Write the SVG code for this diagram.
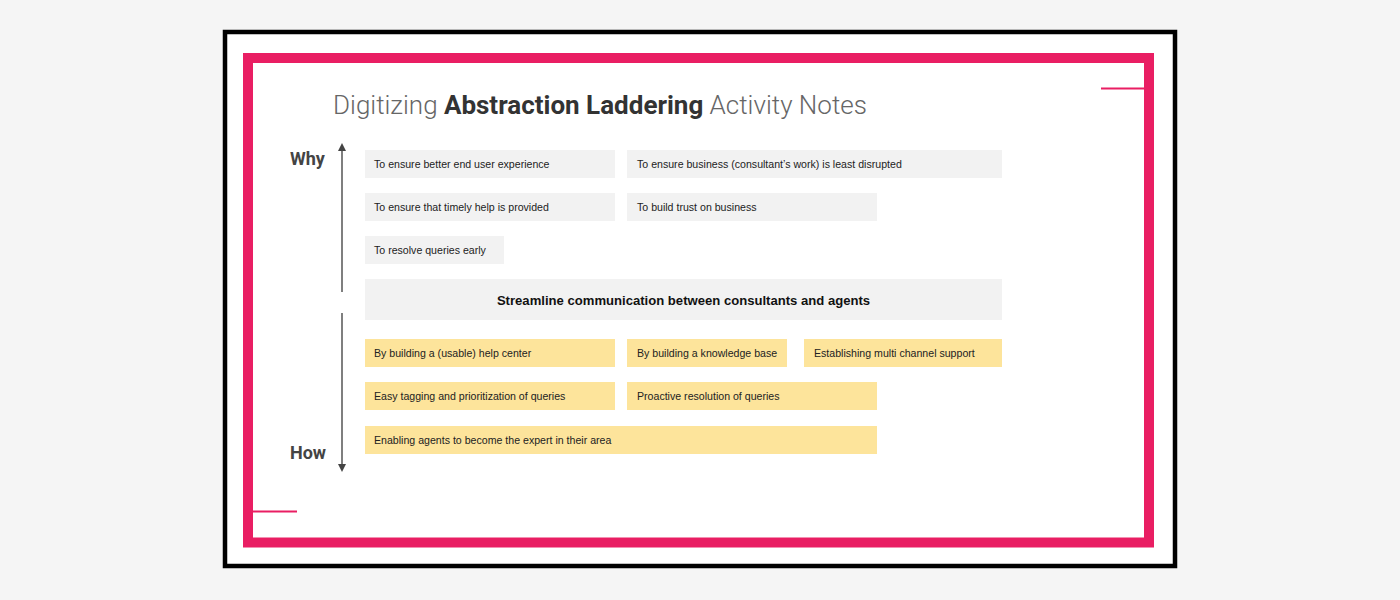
<svg xmlns="http://www.w3.org/2000/svg" width="1400" height="600" viewBox="0 0 1400 600">
<style>
.note{font-family:"Liberation Sans",Arial,sans-serif;font-size:10.6px;fill:#222}
.g{fill:#f2f2f2}
.y{fill:#fde49b}
.lbl{font-family:Roboto,"Liberation Sans",sans-serif;font-weight:bold;font-size:18px;fill:#444}
.ax{stroke:#555;stroke-width:1.5;fill:none}
</style>
<defs>
<marker id="ah" viewBox="0 0 10 10" refX="5" refY="5" markerWidth="9" markerHeight="8" orient="auto-start-reverse" markerUnits="userSpaceOnUse">
<path d="M0,0 L10,5 L0,10 z" fill="#444"/>
</marker>
</defs>
<rect width="1400" height="600" fill="#f5f5f5"/>
<rect x="225" y="32" width="950" height="534" fill="#fff" stroke="#000" stroke-width="4.5"/>
<rect x="248" y="58" width="901" height="484.5" fill="none" stroke="#e91e63" stroke-width="10"/>
<line x1="1101" y1="88.5" x2="1144" y2="88.5" stroke="#e91e63" stroke-width="2"/>
<line x1="253" y1="511.5" x2="297" y2="511.5" stroke="#e91e63" stroke-width="2"/>
<text x="333" y="114" font-family="Roboto,'Liberation Sans',sans-serif" font-size="26" font-weight="300" fill="#666">Digitizing <tspan font-weight="bold" fill="#333">Abstraction Laddering</tspan> Activity Notes</text>
<g id="why"><text class="lbl" x="290" y="165">Why</text></g>
<g id="how"><text class="lbl" x="290" y="459">How</text></g>
<g id="connectors">
<line class="ax" x1="342" y1="292" x2="342" y2="147" marker-end="url(#ah)"/>
<line class="ax" x1="342" y1="313" x2="342" y2="468" marker-end="url(#ah)"/>
</g>
<g id="n1"><rect class="g" x="365" y="150" width="250" height="28"/><text class="note" x="374" y="167.5">To ensure better end user experience</text></g>
<g id="n2"><rect class="g" x="627" y="150" width="375" height="28"/><text class="note" x="637" y="167.5">To ensure business (consultant’s work) is least disrupted</text></g>
<g id="n3"><rect class="g" x="365" y="193" width="250" height="28"/><text class="note" x="374" y="210.5">To ensure that timely help is provided</text></g>
<g id="n4"><rect class="g" x="627" y="193" width="250" height="28"/><text class="note" x="637" y="210.5">To build trust on business</text></g>
<g id="n5"><rect class="g" x="365" y="236" width="139" height="28"/><text class="note" x="374" y="253.5">To resolve queries early</text></g>
<g id="center"><rect class="g" x="365" y="279" width="637" height="41"/><text x="683.5" y="304.5" text-anchor="middle" font-family="'Liberation Sans',Arial,sans-serif" font-size="13.1" font-weight="bold" fill="#111">Streamline communication between consultants and agents</text></g>
<g id="h1"><rect class="y" x="365" y="339" width="250" height="28"/><text class="note" x="374" y="356.5">By building a (usable) help center</text></g>
<g id="h2"><rect class="y" x="627" y="339" width="160" height="28"/><text class="note" x="637" y="356.5">By building a knowledge base</text></g>
<g id="h3"><rect class="y" x="804" y="339" width="198" height="28"/><text class="note" x="814" y="356.5">Establishing multi channel support</text></g>
<g id="h4"><rect class="y" x="365" y="382" width="250" height="28"/><text class="note" x="374" y="399.5">Easy tagging and prioritization of queries</text></g>
<g id="h5"><rect class="y" x="627" y="382" width="250" height="28"/><text class="note" x="637" y="399.5">Proactive resolution of queries</text></g>
<g id="h6"><rect class="y" x="365" y="426" width="512" height="28"/><text class="note" x="374" y="443.5">Enabling agents to become the expert in their area</text></g>
</svg>
